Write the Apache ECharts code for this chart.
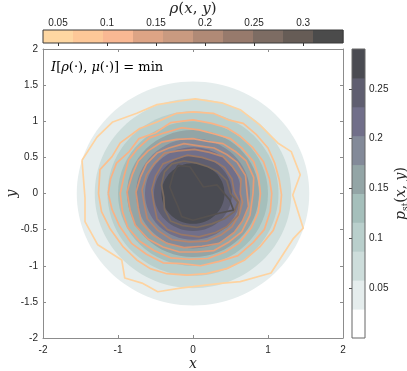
<!DOCTYPE html>
<html>
<head>
<meta charset="utf-8">
<script src="https://cdn.jsdelivr.net/npm/echarts@6/dist/echarts.min.js"></script>
<style>
  html, body { margin: 0; padding: 0; background: #fff; }
  #chart { width: 407px; height: 371px; }
</style>
</head>
<body>
<div id="chart"></div>
<script>
// stationary density p_st: filled contour levels (circles around the centre)
const PST_CENTER = [0, 0]
const PST_LEVEL_RADII = [1.55, 1.31, 1.14, 1.0, 0.88, 0.76, 0.64, 0.52, 0.42]
const PST_BANDS = [0, 0.029, 0.058, 0.087, 0.116, 0.145, 0.174, 0.203, 0.232, 0.261, 0.29]
const PST_TICKS = [0.05, 0.1, 0.15, 0.2, 0.25]

// rho(x, y) colorbar
const RHO_BANDS = [0.0347, 0.0653, 0.0959, 0.1265, 0.1571, 0.1877, 0.2183, 0.2489, 0.2795, 0.3101, 0.3407]
const RHO_TICKS = [0.05, 0.1, 0.15, 0.2, 0.25, 0.3]

// rho(x, y) contour lines, outer to inner
const rhoLine1 = [[-1.48, 0.46], [-1.28, 0.78], [-1.07, 0.99], [-0.75, 1.11], [-0.48, 1.23], [-0.17, 1.28], [0.03, 1.31],
  [0.40, 1.25], [0.63, 1.16], [0.89, 0.95], [1.13, 0.70], [1.31, 0.58], [1.43, 0.26], [1.33, -0.02], [1.47, -0.48],
  [1.34, -0.62], [1.04, -1.10], [0.63, -1.22], [0.40, -1.24], [0.0, -1.29], [-0.17, -1.31], [-0.47, -1.36],
  [-0.68, -1.24], [-0.91, -1.17], [-0.95, -0.92], [-1.27, -0.71], [-1.44, -0.39], [-1.44, -0.06], [-1.48, 0.46]]
const rhoLine2 = [[-1.26, 0.0], [-1.24, 0.33], [-1.08, 0.51], [-0.97, 0.70], [-0.71, 0.90], [-0.48, 0.99], [-0.22, 1.11],
  [0.0, 1.13], [0.27, 1.11], [0.47, 1.02], [0.67, 0.97], [0.85, 0.81], [1.0, 0.63], [1.09, 0.42], [1.15, 0.19],
  [1.18, -0.02], [1.16, -0.25], [1.07, -0.51], [0.89, -0.74], [0.69, -0.92], [0.45, -1.04], [0.18, -1.11],
  [-0.08, -1.13], [-0.35, -1.11], [-0.57, -1.04], [-0.75, -0.92], [-0.93, -0.74], [-1.11, -0.48], [-1.22, -0.25], [-1.26, 0.0]]
const rhoLine3 = [[-1.13, 0.0], [-1.10, 0.20], [-1.02, 0.42], [-0.85, 0.58], [-0.72, 0.76], [-0.50, 0.84], [-0.30, 0.98],
  [0.0, 1.02], [0.25, 0.97], [0.45, 0.91], [0.62, 0.80], [0.80, 0.63], [0.94, 0.44], [1.02, 0.20], [1.05, 0.0],
  [1.03, -0.25], [0.95, -0.50], [0.80, -0.68], [0.60, -0.86], [0.35, -0.94], [0.10, -1.0], [-0.15, -0.97],
  [-0.40, -0.96], [-0.62, -0.84], [-0.82, -0.69], [-0.98, -0.45], [-1.08, -0.22], [-1.13, 0.0]]
const rhoLine4 = [[0.90, 0.0], [0.87, 0.25], [0.81, 0.44], [0.66, 0.62], [0.50, 0.76], [0.30, 0.82], [0.08, 0.88],
  [-0.15, 0.91], [-0.38, 0.84], [-0.58, 0.77], [-0.75, 0.61], [-0.86, 0.46], [-0.92, 0.24], [-0.97, 0.0],
  [-0.94, -0.25], [-0.87, -0.47], [-0.71, -0.66], [-0.52, -0.79], [-0.30, -0.89], [-0.05, -0.91], [0.20, -0.90],
  [0.43, -0.81], [0.61, -0.69], [0.78, -0.47], [0.87, -0.26], [0.90, 0.0]]
const rhoLine5 = [[0.80, 0.0], [0.81, 0.22], [0.71, 0.45], [0.58, 0.57], [0.40, 0.69], [0.20, 0.72], [0.0, 0.76],
  [-0.22, 0.75], [-0.42, 0.71], [-0.60, 0.59], [-0.73, 0.45], [-0.81, 0.26], [-0.88, 0.02], [-0.84, -0.22],
  [-0.77, -0.44], [-0.60, -0.63], [-0.40, -0.74], [-0.18, -0.81], [0.05, -0.81], [0.28, -0.79], [0.48, -0.67],
  [0.65, -0.53], [0.76, -0.30], [0.80, 0.0]]
const rhoLine6 = [[0.72, 0.02], [0.70, 0.25], [0.59, 0.43], [0.45, 0.54], [0.28, 0.63], [0.08, 0.66], [-0.12, 0.69],
  [-0.32, 0.63], [-0.48, 0.56], [-0.62, 0.41], [-0.70, 0.23], [-0.76, 0.02], [-0.73, -0.20], [-0.69, -0.40],
  [-0.54, -0.57], [-0.35, -0.69], [-0.12, -0.75], [0.12, -0.73], [0.35, -0.69], [0.55, -0.54], [0.66, -0.38],
  [0.74, -0.18], [0.72, 0.02]]
const rhoLine7 = [[0.63, 0.0], [0.64, 0.20], [0.52, 0.38], [0.40, 0.51], [0.22, 0.57], [0.02, 0.61], [-0.20, 0.59],
  [-0.38, 0.56], [-0.52, 0.41], [-0.62, 0.26], [-0.68, 0.05], [-0.65, -0.15], [-0.61, -0.35], [-0.47, -0.51],
  [-0.28, -0.64], [-0.05, -0.67], [0.18, -0.66], [0.38, -0.57], [0.52, -0.46], [0.62, -0.28], [0.66, -0.12], [0.63, 0.0]]
const rhoLine8 = [[0.55, 0.02], [0.52, 0.20], [0.42, 0.36], [0.30, 0.44], [0.12, 0.50], [-0.08, 0.53], [-0.25, 0.47],
  [-0.40, 0.41], [-0.50, 0.24], [-0.55, 0.05], [-0.52, -0.15], [-0.48, -0.35], [-0.34, -0.50], [-0.15, -0.57],
  [0.08, -0.60], [0.30, -0.54], [0.45, -0.46], [0.60, -0.30], [0.62, -0.12], [0.55, 0.02]]
const rhoLine9 = [[0.50, 0.0], [0.45, 0.18], [0.33, 0.30], [0.20, 0.37], [0.05, 0.42], [-0.12, 0.45], [-0.28, 0.41],
  [-0.38, 0.30], [-0.42, 0.12], [-0.39, -0.05], [-0.38, -0.22], [-0.30, -0.38], [-0.15, -0.44], [0.05, -0.47],
  [0.25, -0.42], [0.42, -0.35], [0.55, -0.25], [0.60, -0.12], [0.50, 0.0]]
const rhoLine10 = [[-0.20, 0.39], [-0.26, 0.28], [-0.31, 0.09], [-0.26, -0.04], [-0.20, -0.18], [-0.15, -0.32],
  [0.0, -0.37], [0.18, -0.32], [0.36, -0.27], [0.54, -0.23], [0.49, -0.09], [0.32, 0.12], [0.14, 0.09],
  [0.05, 0.23], [-0.04, 0.37], [-0.20, 0.39]]
const RHO_LINES = [rhoLine1, rhoLine2, rhoLine3, rhoLine4, rhoLine5, rhoLine6, rhoLine7, rhoLine8, rhoLine9, rhoLine10]

// colour maps
const PST_COLORS = ['#ffffff', '#e5eded', '#cddddb', '#b9cfcc', '#a5bfbb', '#93a5a6', '#838a99', '#716f8a', '#5f5e70', '#4a4b52']
const RHO_COLORS = ['#fed7a2', '#fdc898', '#f9b893', '#dda485', '#c99a80', '#b08a76', '#977a6c', '#7d6c63', '#665c56', '#4b4b4b']
const RHO_LINE_COLORS = ['#fed3a0', '#fcc08e', '#f9b285', '#f4a87e', '#e69d78', '#d39474', '#b8866d', '#9a7866', '#7a6a5e', '#555150']

const SERIF = 'DejaVu Serif'
const SANS = 'Liberation Sans'
const AXIS_GRAY = '#8c8c8c'

const mainAxis = (extra) => Object.assign({
  type: 'value', min: -2, max: 2,
  gridIndex: 0,
  axisLine: { show: true, onZero: false, lineStyle: { color: AXIS_GRAY, width: 1 } },
  axisTick: { show: true, inside: true, length: 3, lineStyle: { color: AXIS_GRAY } },
  axisLabel: { show: false },
  splitLine: { show: false },
}, extra)

const labelStyle = { color: '#262626', fontSize: 10, fontFamily: SANS }

const mathRich = {
  i: { fontFamily: SERIF, fontStyle: 'italic', fontWeight: 'normal', fontSize: 14, color: '#262626' },
  n: { fontFamily: SERIF, fontWeight: 'normal', fontSize: 14, color: '#262626' },
  s: { fontFamily: SERIF, fontWeight: 'normal', fontSize: 9, color: '#262626', verticalAlign: 'bottom', lineHeight: 18 },
}

const chart = echarts.init(document.getElementById('chart'), null, { renderer: 'canvas' })

const option = {
  animation: false,
  backgroundColor: '#ffffff',
  title: {
    text: '{i|ρ}{n|(}{i|x}{n|, }{i|y}{n|)}',
    left: 193, top: 2, textAlign: 'center', padding: 0,
    textStyle: {
      fontWeight: 'normal',
      rich: { i: Object.assign({}, mathRich.i, { fontSize: 15 }), n: Object.assign({}, mathRich.n, { fontSize: 15 }) },
    },
  },
  grid: [
    { left: 43, top: 49, width: 300, height: 289, outerBoundsMode: 'none', containLabel: false },
    { left: 43, top: 30, width: 300, height: 13, outerBoundsMode: 'none', containLabel: false,
      show: true, borderColor: '#3a3a3a', borderWidth: 1, z: 5 },
    { left: 352, top: 49, width: 13, height: 289, outerBoundsMode: 'none', containLabel: false,
      show: true, borderColor: '#666', borderWidth: 1, z: 5 },
  ],
  xAxis: [
    mainAxis({
      position: 'bottom', interval: 1,
      axisLabel: Object.assign({ show: true, margin: 7 }, labelStyle),
      name: 'x', nameLocation: 'middle', nameGap: 19, nameMoveOverlap: false,
      nameTextStyle: { fontFamily: SERIF, fontStyle: 'italic', fontSize: 14, color: '#262626' },
    }),
    mainAxis({ position: 'top', interval: 1 }),
    {
      type: 'value', gridIndex: 1, position: 'top',
      min: RHO_BANDS[0], max: RHO_BANDS[RHO_BANDS.length - 1],
      axisLine: { show: false },
      axisTick: { show: true, inside: true, length: 3, customValues: RHO_TICKS, lineStyle: { color: '#333' } },
      axisLabel: Object.assign({ show: true, customValues: RHO_TICKS, margin: 2 }, labelStyle),
      splitLine: { show: false },
      z: 6,
    },
    { type: 'value', gridIndex: 2, min: 0, max: 1, show: false },
  ],
  yAxis: [
    mainAxis({
      position: 'left', interval: 0.5,
      axisLabel: Object.assign({ show: true, margin: 5 }, labelStyle),
      name: 'y', nameLocation: 'middle', nameGap: 24, nameRotate: 90, nameMoveOverlap: false,
      nameTextStyle: { fontFamily: SERIF, fontStyle: 'italic', fontSize: 14, color: '#262626' },
    }),
    mainAxis({ position: 'right', interval: 0.5 }),
    { type: 'value', gridIndex: 1, min: 0, max: 1, show: false },
    {
      type: 'value', gridIndex: 2, position: 'right',
      min: PST_BANDS[0], max: PST_BANDS[PST_BANDS.length - 1],
      axisLine: { show: false },
      axisTick: { show: true, inside: true, length: 3, customValues: PST_TICKS, lineStyle: { color: '#555' } },
      axisLabel: Object.assign({ show: true, customValues: PST_TICKS, margin: 4 }, labelStyle),
      splitLine: { show: false },
      name: '{i|p}{s|st}{n|(}{i|x}{n|, }{i|y}{n|)}',
      nameLocation: 'middle', nameGap: 27, nameRotate: 90, nameMoveOverlap: false,
      nameTextStyle: { rich: mathRich },
      z: 6,
    },
  ],
  graphic: [{
    type: 'text', left: 51, top: 61, z: 10,
    style: {
      text: '{i|I}{n|[}{i|ρ}{n|(·), }{i|μ}{n|(·)] = min}',
      rich: {
        i: { fontFamily: SERIF, fontStyle: 'italic', fontSize: 13, color: '#5a4a40' },
        n: { fontFamily: SERIF, fontSize: 13, color: '#5a4a40' },
      },
    },
  }],
  series: [
    {
      type: 'custom', name: 'p_st', xAxisIndex: 0, yAxisIndex: 0, z: 2,
      data: PST_LEVEL_RADII.map((r, i) => [r, i + 1]),
      renderItem: (params, api) => {
        const c = api.coord(PST_CENTER)
        const s = api.size([api.value(0), api.value(0)])
        return {
          type: 'ellipse',
          shape: { cx: c[0], cy: c[1], rx: s[0], ry: s[1] },
          style: { fill: PST_COLORS[api.value(1)] },
        }
      },
    },
    ...RHO_LINES.map((pts, i) => ({
      type: 'line', name: 'rho' + (i + 1), xAxisIndex: 0, yAxisIndex: 0, z: 3,
      data: pts, showSymbol: false, symbol: 'none', silent: true,
      lineStyle: { color: RHO_LINE_COLORS[i], width: 1.7 },
    })),
    {
      type: 'custom', name: 'rho colorbar', xAxisIndex: 2, yAxisIndex: 2,
      data: RHO_COLORS.map((c, i) => [RHO_BANDS[i], RHO_BANDS[i + 1], i]),
      renderItem: (params, api) => {
        const a = api.coord([api.value(0), 0])
        const b = api.coord([api.value(1), 1])
        return {
          type: 'rect',
          shape: { x: a[0], y: b[1], width: b[0] - a[0] + 0.5, height: a[1] - b[1] },
          style: { fill: RHO_COLORS[api.value(2)] },
        }
      },
    },
    {
      type: 'custom', name: 'pst colorbar', xAxisIndex: 3, yAxisIndex: 3,
      data: PST_COLORS.map((c, i) => [PST_BANDS[i], PST_BANDS[i + 1], i]),
      renderItem: (params, api) => {
        const a = api.coord([0, api.value(0)])
        const b = api.coord([1, api.value(1)])
        return {
          type: 'rect',
          shape: { x: a[0], y: b[1], width: b[0] - a[0], height: a[1] - b[1] + 0.5 },
          style: { fill: PST_COLORS[api.value(2)] },
        }
      },
    },
  ],
}

chart.setOption(option)
</script>
</body>
</html>
